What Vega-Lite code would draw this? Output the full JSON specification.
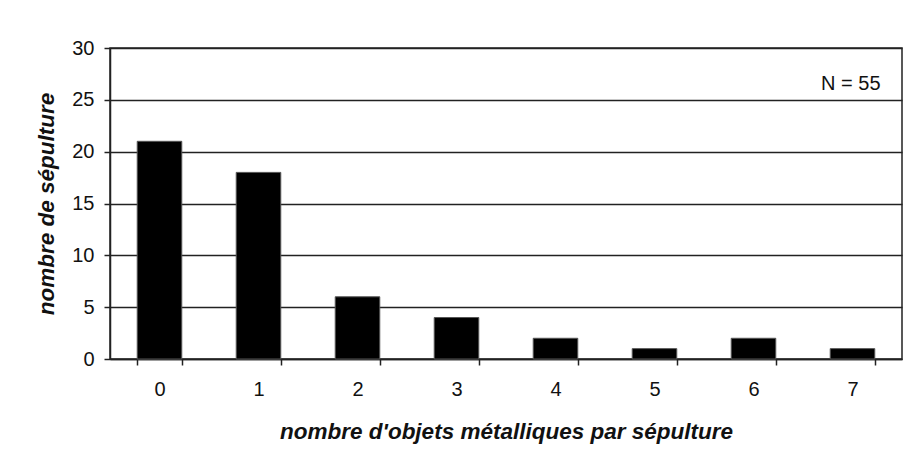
{
  "$schema": "https://vega.github.io/schema/vega-lite/v6.json",
  "width": 792,
  "height": 311,
  "autosize": {"type": "none"},
  "padding": {"left": 110, "top": 48, "right": 5, "bottom": 107},
  "background": "white",
  "config": {
    "font": "Liberation Sans",
    "view": {"stroke": "#222", "strokeWidth": 1.5},
    "axis": {
      "domainColor": "#222",
      "domainWidth": 1.5,
      "tickColor": "#222",
      "tickWidth": 1.5,
      "labelColor": "#111",
      "titleColor": "#111",
      "labelFont": "Liberation Sans",
      "titleFont": "Liberation Sans"
    }
  },
  "data": {
    "values": [
      {"n": "0", "count": 21},
      {"n": "1", "count": 18},
      {"n": "2", "count": 6},
      {"n": "3", "count": 4},
      {"n": "4", "count": 2},
      {"n": "5", "count": 1},
      {"n": "6", "count": 2},
      {"n": "7", "count": 1}
    ]
  },
  "layer": [
    {
      "mark": {"type": "bar", "color": "black", "stroke": "#555", "strokeWidth": 1},
      "encoding": {
        "x": {
          "field": "n",
          "type": "ordinal",
          "sort": null,
          "scale": {"paddingInner": 0.55, "paddingOuter": 0.275},
          "axis": {
            "title": "nombre d'objets métalliques par sépulture",
            "titleFontSize": 22.5,
            "titleFontWeight": "bold",
            "titleFontStyle": "italic",
            "titlePadding": 21,
            "labelFontSize": 20,
            "labelAngle": 0,
            "labelPadding": 14,
            "tickBand": "extent",
            "tickSize": 6,
            "grid": false
          }
        },
        "y": {
          "field": "count",
          "type": "quantitative",
          "scale": {"domain": [0, 30], "nice": false},
          "axis": {
            "title": "nombre de sépulture",
            "titleFontSize": 22.5,
            "titleFontWeight": "bold",
            "titleFontStyle": "italic",
            "titlePadding": 13,
            "labelFontSize": 20,
            "labelPadding": 10,
            "values": [0, 5, 10, 15, 20, 25, 30],
            "tickSize": 6,
            "grid": true,
            "gridColor": "#222",
            "gridWidth": 1.5,
            "gridOpacity": 1
          }
        }
      }
    },
    {
      "data": {"values": [{"label": "N = 55", "n": "7", "y": 26.5}]},
      "mark": {"type": "text", "align": "right", "baseline": "middle", "fontSize": 20, "dx": 28, "color": "#111"},
      "encoding": {
        "x": {"field": "n", "type": "ordinal"},
        "y": {"field": "y", "type": "quantitative"},
        "text": {"field": "label"}
      }
    }
  ]
}
